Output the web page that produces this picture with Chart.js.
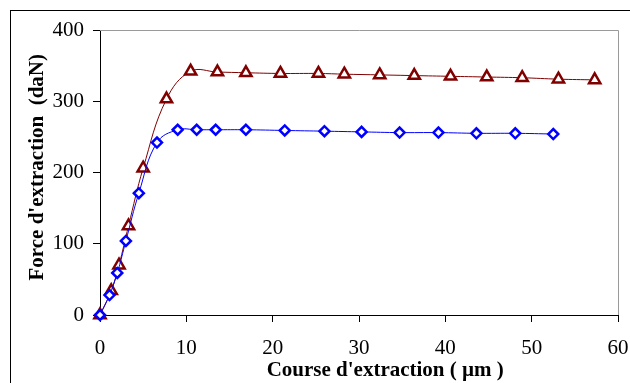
<!DOCTYPE html>
<html>
<head>
<meta charset="utf-8">
<script src="https://cdn.jsdelivr.net/npm/chart.js@4"></script>
<style>
  html, body { margin: 0; padding: 0; background: #fff; overflow: hidden; }
  #frame { position: absolute; left: 10px; top: 10px; width: 660px; height: 420px;
           border-left: 1.5px solid #000; border-top: 1.5px solid #000; }
  #c { position: absolute; left: 0; top: 0; }
</style>
</head>
<body>
<div id="frame"></div>
<canvas id="c" width="630" height="383"></canvas>
<script>
// course (µm) et force (daN) - série bleue (losanges)
const courseBleu = [0, 1.1, 2.0, 3.0, 4.5, 6.6, 9.0, 11.2, 13.4, 16.9, 21.4, 26.0, 30.3, 34.7, 39.2, 43.6, 48.1, 52.5];
const forceBleu  = [0, 28, 59, 104, 171, 242, 260, 260, 260, 260, 259, 258, 257, 256, 256, 255, 255, 254];

// série rouge (triangles)
const courseRouge = [0, 1.3, 2.2, 3.3, 5.0, 7.7, 10.5, 13.6, 16.9, 20.9, 25.3, 28.3, 32.4, 36.4, 40.6, 44.8, 48.9, 53.1, 57.3];
const forceRouge  = [0, 34, 70, 125, 206, 303, 342, 341, 340, 339, 339, 338, 337, 336, 335, 334, 333, 331, 330];

const xTicks = [0, 10, 20, 30, 40, 50, 60];
const yTicks = [0, 100, 200, 300, 400];

// espaces en tête : décale le titre comme dans l'original
const titreX = "          Course d'extraction ( µm )";
const titreY = "  Force d'extraction  (daN)";

function toPoints(xs, ys) {
    return xs.map((x, i) => ({ x: x, y: ys[i] }));
}

// bord gris du haut et de droite de la zone de tracé
const plotBorder = {
    id: 'plotBorder',
    beforeDatasetsDraw(chart) {
        const a = chart.chartArea;
        const ctx = chart.ctx;
        ctx.save();
        ctx.strokeStyle = '#9a9a9a';
        ctx.lineWidth = 1;
        ctx.beginPath();
        ctx.moveTo(a.left, a.top + 0.5);
        ctx.lineTo(a.right + 0.5, a.top + 0.5);
        ctx.lineTo(a.right + 0.5, a.bottom);
        ctx.stroke();
        ctx.restore();
    }
};

const serif = "'Liberation Serif', 'Times New Roman', serif";

new Chart(document.getElementById('c').getContext('2d'), {
    type: 'scatter',
    data: {
        datasets: [{
            label: 'bleu',
            data: toPoints(courseBleu, forceBleu),
            showLine: true,
            borderColor: '#0000ff',
            borderWidth: 1,
            tension: 0.4,
            pointStyle: 'rectRot',
            pointRadius: 5,
            pointBorderWidth: 2.5,
            pointBackgroundColor: '#fff',
            pointBorderColor: '#0000ff',
            clip: false
        }, {
            label: 'rouge',
            data: toPoints(courseRouge, forceRouge),
            showLine: true,
            borderColor: '#800000',
            borderWidth: 1,
            tension: 0.4,
            pointStyle: 'triangle',
            pointRadius: 6.5,
            pointBorderWidth: 2.5,
            pointBackgroundColor: '#fff',
            pointBorderColor: '#800000',
            clip: false
        }]
    },
    options: {
        responsive: false,
        animation: false,
        layout: { padding: { left: 21, top: 30, right: 12, bottom: 0 } },
        plugins: {
            legend: { display: false },
            tooltip: { enabled: false }
        },
        scales: {
            x: {
                type: 'linear',
                min: 0,
                max: 60,
                afterFit: s => { s.height = 68; s.paddingLeft = 0; s.paddingRight = 0; },
                afterBuildTicks: s => { s.ticks = xTicks.map(v => ({ value: v })); },
                grid: { drawOnChartArea: false, tickLength: 7, color: '#000' },
                border: { color: '#000', width: 1 },
                ticks: { color: '#000', padding: 14, font: { family: serif, size: 21 } },
                title: {
                    display: true,
                    text: titreX,
                    color: '#000',
                    padding: { top: 4, bottom: 0 },
                    font: { family: serif, size: 21, weight: 'bold' }
                }
            },
            y: {
                min: 0,
                max: 400,
                afterFit: s => { s.width = 79; s.paddingTop = 0; s.paddingBottom = 0; },
                afterBuildTicks: s => { s.ticks = yTicks.map(v => ({ value: v })); },
                grid: { drawOnChartArea: false, tickLength: 7, color: '#000' },
                border: { color: '#000', width: 1 },
                ticks: { color: '#000', padding: 9, font: { family: serif, size: 21 } },
                title: {
                    display: true,
                    text: titreY,
                    color: '#000',
                    font: { family: serif, size: 21, weight: 'bold' }
                }
            }
        }
    },
    plugins: [plotBorder]
});
</script>
</body>
</html>
